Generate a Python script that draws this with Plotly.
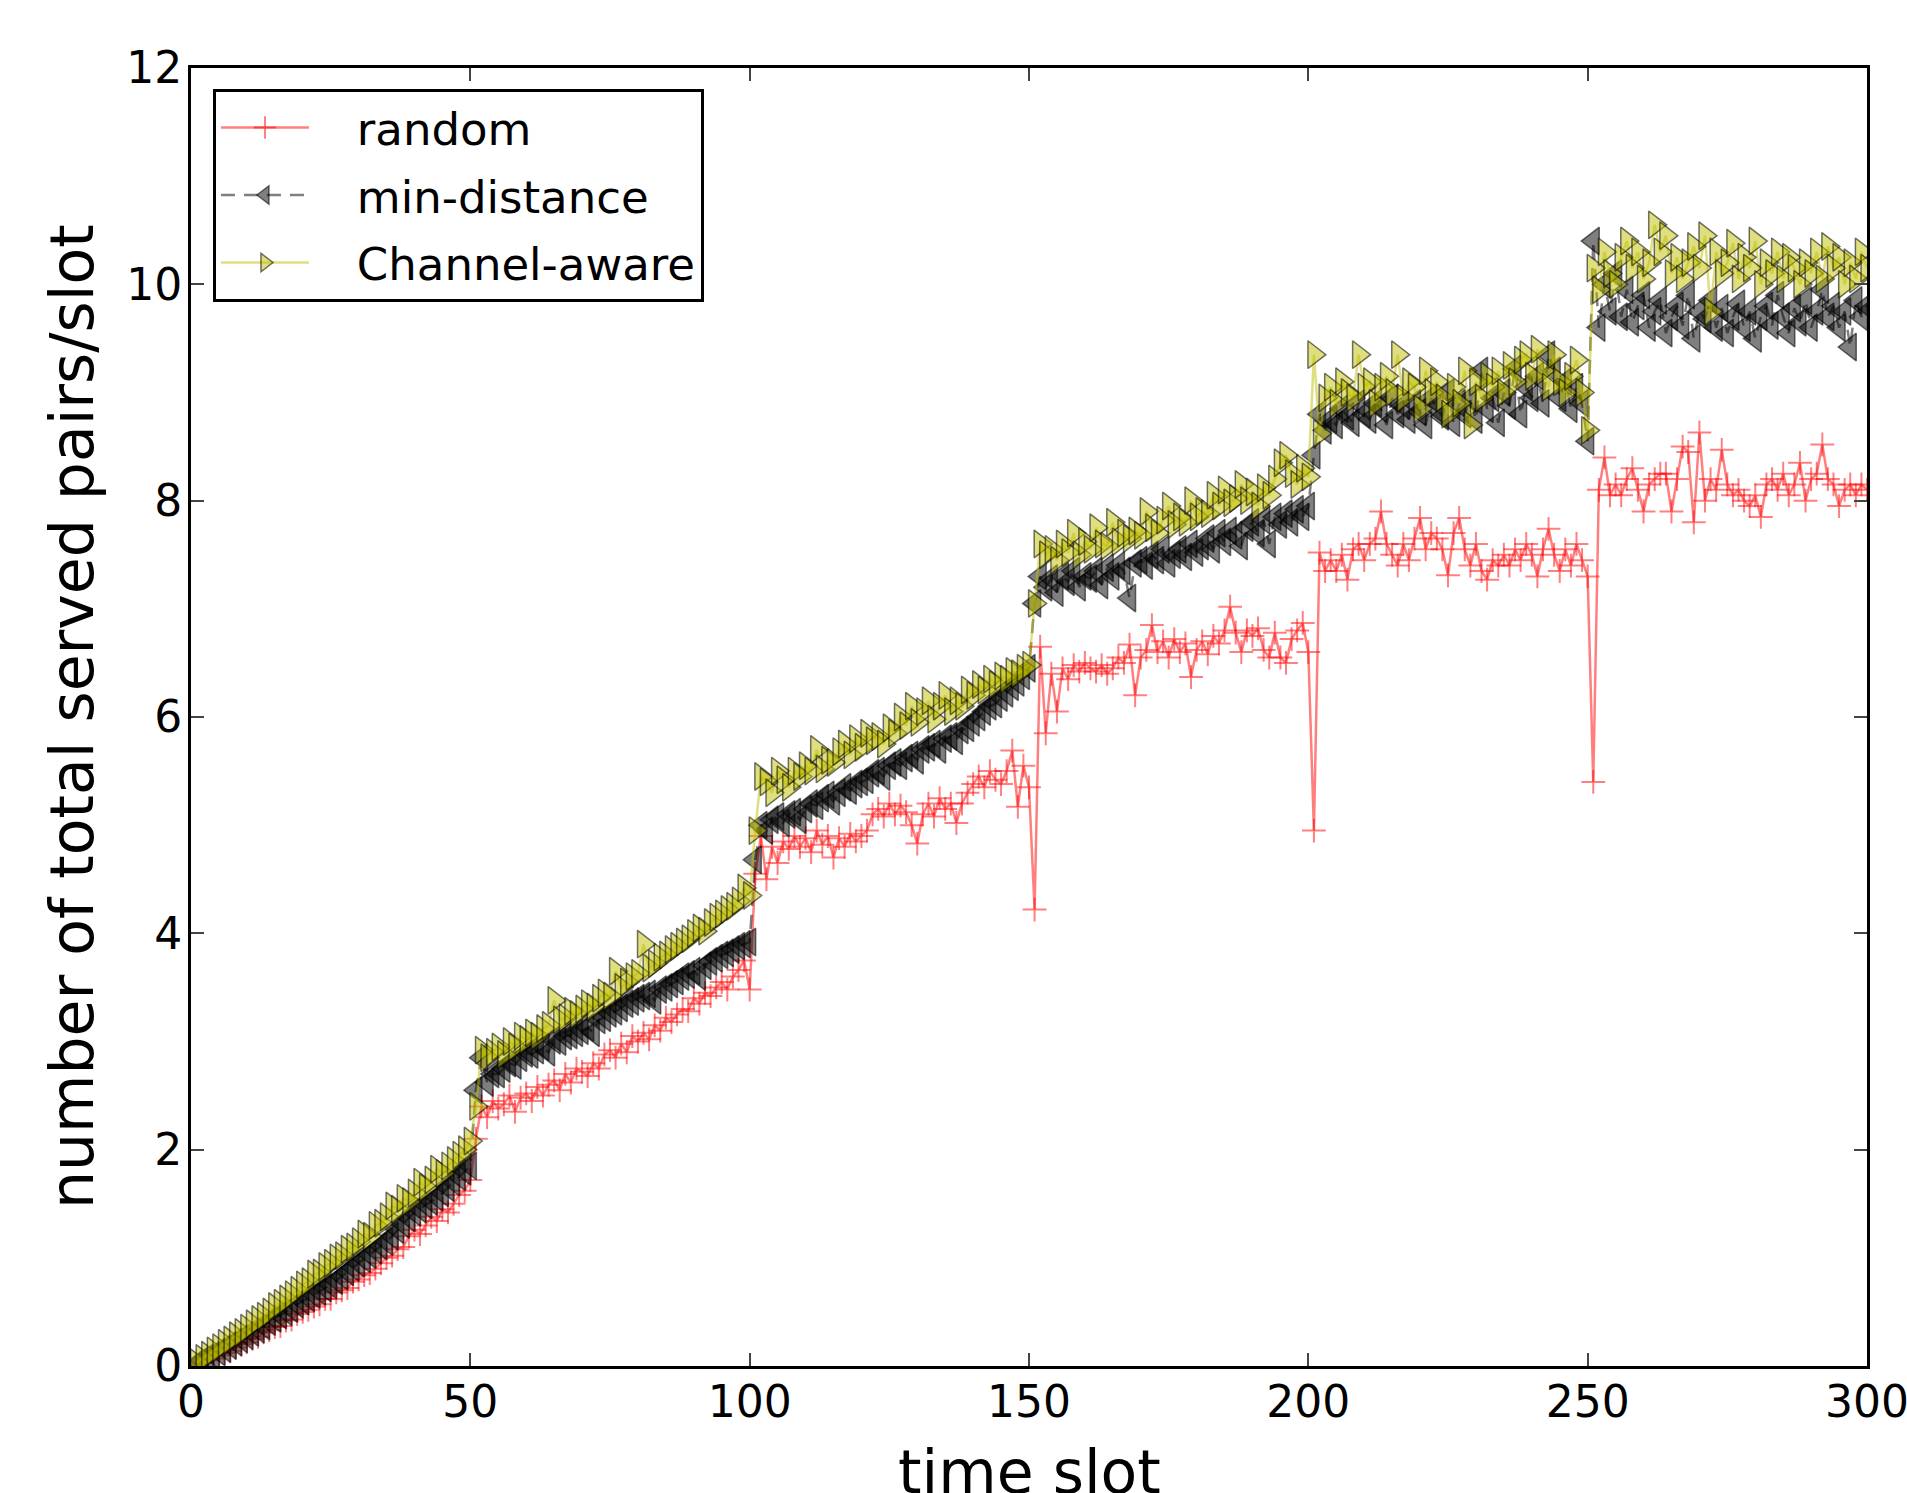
import plotly.graph_objects as go

slots = list(range(1, 301))

random_vals = [
    0.01, 0.03, 0.05, 0.07, 0.10, 0.12, 0.14, 0.17, 0.20, 0.22,
    0.25, 0.27, 0.31, 0.33, 0.36, 0.37, 0.42, 0.43, 0.48, 0.50,
    0.52, 0.55, 0.57, 0.62, 0.62, 0.68, 0.70, 0.72, 0.78, 0.80,
    0.84, 0.86, 0.90, 0.95, 1.00, 1.02, 1.08, 1.10, 1.20, 1.26,
    1.22, 1.30, 1.38, 1.34, 1.45, 1.42, 1.50, 1.58, 1.62, 1.72,
    2.10, 2.40, 2.30, 2.45, 2.38, 2.42, 2.50, 2.35, 2.48, 2.52,
    2.45, 2.58, 2.50, 2.60, 2.64, 2.55, 2.70, 2.62, 2.75, 2.72,
    2.68, 2.80, 2.75, 2.88, 2.92, 2.85, 2.98, 2.90, 3.05, 3.00,
    3.08, 3.02, 3.15, 3.10, 3.22, 3.18, 3.25, 3.30, 3.28, 3.40,
    3.35, 3.45, 3.42, 3.50, 3.55, 3.48, 3.60, 3.66, 3.75, 3.48,
    4.55, 4.90, 4.50, 4.80, 4.65, 4.85, 4.78, 4.90, 4.80, 4.88,
    4.75, 4.95, 4.82, 4.90, 4.70, 4.88, 4.80, 4.92, 4.85, 4.90,
    4.95, 5.10, 5.15, 5.08, 5.20, 5.10, 5.18, 5.12, 5.00, 4.83,
    5.10, 5.20, 5.08, 5.25, 5.15, 5.20, 5.02, 5.20, 5.30, 5.38,
    5.45, 5.35, 5.50, 5.42, 5.38, 5.50, 5.69, 5.17, 5.55, 5.35,
    4.22, 6.65, 5.85, 6.40, 6.05, 6.45, 6.35, 6.48, 6.42, 6.50,
    6.45, 6.42, 6.48, 6.40, 6.45, 6.55, 6.50, 6.67, 6.20, 6.55,
    6.62, 6.85, 6.60, 6.70, 6.55, 6.72, 6.60, 6.68, 6.37, 6.62,
    6.70, 6.58, 6.75, 6.68, 6.80, 7.02, 6.78, 6.60, 6.80, 6.75,
    6.82, 6.62, 6.55, 6.78, 6.55, 6.50, 6.72, 6.80, 6.87, 6.60,
    4.95, 7.52, 7.35, 7.45, 7.35, 7.50, 7.27, 7.55, 7.60, 7.45,
    7.60, 7.65, 7.90, 7.60, 7.50, 7.40, 7.60, 7.45, 7.65, 7.84,
    7.55, 7.70, 7.65, 7.55, 7.31, 7.70, 7.84, 7.55, 7.40, 7.60,
    7.35, 7.27, 7.45, 7.40, 7.50, 7.40, 7.55, 7.45, 7.60, 7.50,
    7.30, 7.55, 7.74, 7.50, 7.35, 7.55, 7.40, 7.60, 7.45, 7.30,
    5.40, 8.10, 8.40, 8.05, 8.15, 8.05, 8.20, 8.30, 8.10, 7.90,
    8.15, 8.20, 8.25, 8.25, 7.90, 8.20, 8.50, 8.45, 7.80, 8.63,
    8.00, 8.20, 8.10, 8.47, 8.15, 8.05, 8.10, 8.00, 7.95, 8.05,
    7.85, 8.15, 8.20, 8.10, 8.25, 8.05, 8.15, 8.35, 8.00, 8.20,
    8.25, 8.52, 8.20, 8.15, 7.95, 8.10, 8.15, 8.05, 8.15, 8.10,
]

min_distance_vals = [
    0.02, 0.05, 0.08, 0.10, 0.13, 0.16, 0.19, 0.22, 0.25, 0.28,
    0.31, 0.34, 0.37, 0.41, 0.44, 0.47, 0.50, 0.53, 0.57, 0.60,
    0.63, 0.66, 0.69, 0.72, 0.75, 0.79, 0.83, 0.87, 0.91, 0.95,
    0.99, 1.03, 1.07, 1.11, 1.15, 1.20, 1.26, 1.31, 1.37, 1.42,
    1.45, 1.49, 1.52, 1.56, 1.60, 1.65, 1.70, 1.75, 1.80, 1.85,
    2.55, 2.85, 2.62, 2.70, 2.70, 2.75, 2.80, 2.78, 2.85, 2.89,
    2.88, 2.92, 2.95, 2.90, 3.01, 3.00, 3.05, 3.06, 3.08, 3.10,
    3.13, 3.08, 3.20, 3.22, 3.26, 3.28, 3.31, 3.35, 3.37, 3.40,
    3.42, 3.44, 3.38, 3.48, 3.50, 3.53, 3.56, 3.60, 3.62, 3.65,
    3.60, 3.70, 3.74, 3.77, 3.80, 3.82, 3.85, 3.88, 3.90, 3.92,
    4.68, 5.00, 4.95, 5.05, 5.08, 5.02, 5.10, 5.12, 5.05, 5.15,
    5.20, 5.18, 5.25, 5.28, 5.22, 5.30, 5.35, 5.32, 5.38, 5.40,
    5.42, 5.48, 5.50, 5.45, 5.55, 5.58, 5.55, 5.62, 5.65, 5.60,
    5.70, 5.72, 5.75, 5.70, 5.80, 5.82, 5.78, 5.88, 5.90, 5.95,
    6.00, 6.05, 6.10, 6.12, 6.18, 6.22, 6.28, 6.32, 6.38, 6.45,
    7.05, 7.30, 7.20, 7.28, 7.15, 7.30, 7.25, 7.35, 7.20, 7.30,
    7.28, 7.35, 7.22, 7.38, 7.30, 7.40, 7.35, 7.10, 7.42, 7.45,
    7.40, 7.50, 7.45, 7.55, 7.42, 7.50, 7.55, 7.48, 7.60, 7.52,
    7.58, 7.65, 7.55, 7.70, 7.62, 7.72, 7.68, 7.58, 7.75, 7.80,
    7.70, 7.82, 7.60, 7.85, 7.78, 7.88, 7.80, 7.92, 7.85, 7.95,
    8.42, 8.80, 8.65, 8.75, 8.70, 8.85, 8.78, 8.72, 8.90, 8.80,
    8.75, 8.90, 8.85, 8.70, 8.95, 8.80, 8.88, 8.75, 8.90, 8.82,
    8.70, 8.95, 8.85, 8.78, 9.00, 8.72, 8.90, 8.80, 8.95, 8.75,
    9.20, 8.85, 8.95, 8.72, 9.00, 8.88, 9.22, 8.80, 9.05, 8.95,
    9.15, 8.90, 9.35, 9.20, 8.95, 9.10, 8.85, 9.05, 8.90, 8.55,
    10.40, 9.60, 10.00, 9.75, 10.10, 9.70, 9.95, 9.65, 9.80, 9.90,
    9.60, 9.75, 9.85, 9.55, 9.70, 9.80, 9.62, 9.90, 9.50, 9.75,
    9.68, 9.85, 9.60, 9.78, 9.55, 9.70, 9.82, 9.60, 9.75, 9.50,
    9.70, 9.80, 9.62, 9.90, 9.70, 9.55, 9.78, 9.65, 9.85, 9.60,
    9.75, 9.95, 9.70, 9.80, 9.60, 9.75, 9.42, 9.85, 9.70, 9.80,
]

channel_aware_vals = [
    0.03, 0.07, 0.10, 0.14, 0.17, 0.21, 0.24, 0.28, 0.31, 0.35,
    0.39, 0.43, 0.46, 0.50, 0.55, 0.58, 0.62, 0.66, 0.70, 0.75,
    0.78, 0.85, 0.86, 0.92, 0.95, 1.00, 1.02, 1.08, 1.10, 1.15,
    1.22, 1.20, 1.30, 1.32, 1.38, 1.48, 1.45, 1.55, 1.52, 1.60,
    1.70, 1.65, 1.72, 1.82, 1.78, 1.85, 1.90, 1.95, 2.00, 2.08,
    2.40, 2.92, 2.85, 2.90, 2.95, 2.88, 3.00, 2.95, 3.05, 3.02,
    3.08, 3.05, 3.12, 3.15, 3.38, 3.20, 3.22, 3.28, 3.25, 3.30,
    3.35, 3.32, 3.40, 3.45, 3.42, 3.65, 3.50, 3.55, 3.60, 3.63,
    3.90, 3.68, 3.72, 3.78, 3.80, 3.85, 3.88, 3.92, 3.95, 4.00,
    4.05, 4.02, 4.10, 4.15, 4.18, 4.22, 4.25, 4.30, 4.42, 4.35,
    4.95, 5.45, 5.40, 5.30, 5.50, 5.42, 5.35, 5.50, 5.45, 5.55,
    5.50, 5.70, 5.52, 5.60, 5.58, 5.68, 5.75, 5.65, 5.80, 5.72,
    5.85, 5.78, 5.82, 5.75, 5.90, 5.85, 6.00, 5.92, 6.10, 5.95,
    6.05, 6.15, 5.98, 6.10, 6.20, 6.05, 6.15, 6.10, 6.25, 6.20,
    6.30, 6.25, 6.35, 6.30, 6.38, 6.35, 6.42, 6.40, 6.45, 6.48,
    7.05, 7.60, 7.50, 7.55, 7.45, 7.60, 7.52, 7.70, 7.50, 7.62,
    7.55, 7.75, 7.60, 7.58, 7.80, 7.62, 7.70, 7.65, 7.72, 7.68,
    7.90, 7.75, 7.70, 7.82, 7.95, 7.78, 7.85, 7.80, 8.00, 7.85,
    7.90, 7.88, 8.05, 7.95, 8.10, 7.98, 8.02, 8.15, 8.00, 8.08,
    7.95, 8.12, 8.05, 8.20, 8.35, 8.42, 8.25, 8.15, 8.30, 8.22,
    9.35, 8.62, 8.95, 9.05, 8.90, 9.10, 9.00, 8.95, 9.35, 9.05,
    9.10, 8.90, 9.05, 9.15, 9.00, 9.35, 8.95, 9.10, 9.05, 8.85,
    9.20, 9.00, 9.10, 8.95, 8.80, 9.05, 8.90, 9.20, 8.70, 9.10,
    8.95, 9.15, 9.05, 9.20, 9.00, 9.25, 9.10, 9.30, 9.35, 9.15,
    9.40, 9.20, 9.05, 9.35, 9.10, 9.00, 9.15, 9.30, 9.00, 8.65,
    10.15, 9.95, 10.30, 10.10, 10.00, 10.25, 10.40, 10.15, 10.30, 10.05,
    10.20, 10.55, 10.30, 10.45, 10.10, 10.25, 10.05, 10.20, 10.35, 10.15,
    10.45, 9.75, 10.30, 10.10, 10.20, 10.38, 10.05, 10.25, 10.15, 10.40,
    10.00, 10.20, 10.10, 10.30, 10.05, 10.25, 10.15, 10.00, 10.20, 10.10,
    10.30, 10.05, 10.35, 10.15, 10.25, 10.00, 10.20, 10.05, 10.30, 10.15,
]

series_names = ["random", "min-distance", "Channel-aware"]
x_ticks = [0, 50, 100, 150, 200, 250, 300]
y_ticks = [0, 2, 4, 6, 8, 10, 12]

FONT = "DejaVu Sans"
PAD = "\u00a0\u00a0\u00a0"

fig = go.Figure()

fig.add_trace(go.Scatter(
    x=slots, y=random_vals, name=PAD + series_names[0], mode="lines+markers",
    legendgroup="g1",
    line=dict(color="rgba(255,0,0,0.5)", width=2.5),
    marker=dict(symbol="cross-thin", size=17, color="rgba(255,0,0,0.5)",
                line=dict(color="rgba(255,0,0,0.5)", width=2)),
))
fig.add_trace(go.Scatter(
    x=slots, y=min_distance_vals, name=PAD + series_names[1], mode="lines+markers",
    legendgroup="g2",
    line=dict(color="rgba(0,0,0,0.5)", width=2.5, dash="14px,9px"),
    marker=dict(symbol="triangle-left", size=24, color="rgba(0,0,0,0.5)",
                line=dict(color="rgba(0,0,0,0.55)", width=1.5)),
))
fig.add_trace(go.Scatter(
    x=slots, y=channel_aware_vals, name=PAD + series_names[2], mode="lines+markers",
    legendgroup="g3",
    line=dict(color="rgba(191,191,0,0.5)", width=2.5),
    marker=dict(symbol="triangle-right", size=24, color="rgba(191,191,0,0.5)",
                line=dict(color="rgba(0,0,0,0.55)", width=1.5)),
))

axis_common = dict(
    showline=True, linewidth=3, linecolor="black", mirror="ticks",
    ticks="inside", ticklen=13, tickwidth=2, tickcolor="#444444",
    showgrid=False, zeroline=False, ticklabeloverflow="allow",
    automargin=False,
    tickfont=dict(family=FONT, size=44, color="black"),
)

fig.update_layout(
    width=1907, height=1493,
    margin=dict(l=191, r=40, t=68, b=127, autoexpand=False),
    paper_bgcolor="white", plot_bgcolor="white",
    font=dict(family=FONT, color="black"),
    xaxis=dict(range=[0, 300], tickvals=x_ticks, ticktext=[str(v) for v in x_ticks],
               ticklabelstandoff=-5, **axis_common),
    yaxis=dict(range=[0, 12], tickvals=y_ticks, ticktext=[str(v) for v in y_ticks],
               ticklabelstandoff=-3, **axis_common),
    legend=dict(
        x=0.0131, y=0.984, xanchor="left", yanchor="top",
        bgcolor="white", bordercolor="black", borderwidth=3,
        font=dict(family=FONT, size=45, color="black"),
        itemwidth=88, tracegroupgap=6, traceorder="grouped",
    ),
    showlegend=True,
    annotations=[
        dict(text="time slot", xref="paper", yref="paper", x=0.5, y=-0.053,
             xanchor="center", yanchor="top", showarrow=False,
             font=dict(family=FONT, size=60, color="black")),
        dict(text="number of total served pairs/slot", xref="paper", yref="paper",
             x=-0.071, y=0.5, xanchor="center", yanchor="middle", textangle=-90,
             showarrow=False, font=dict(family=FONT, size=60, color="black")),
    ],
)

fig.write_html(
    "out.html",
    config={"displayModeBar": False},
    post_script="document.body.style.margin='0';document.body.style.overflow='hidden';",
)
